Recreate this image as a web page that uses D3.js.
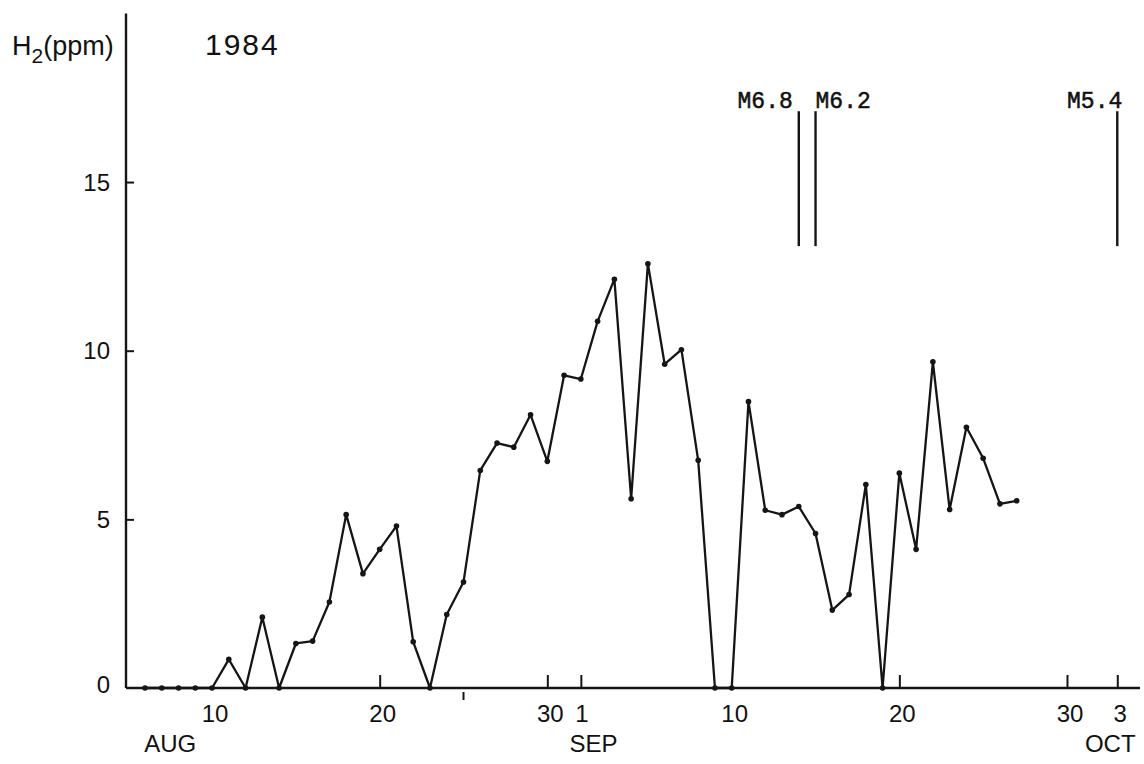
<!DOCTYPE html>
<html>
<head>
<meta charset="utf-8">
<script src="https://cdn.jsdelivr.net/npm/d3@7"></script>
<style>
  html, body { margin: 0; padding: 0; background: #fff; }
  svg { display: block; }
  text { fill: #111; }
</style>
</head>
<body>
<div id="chart"></div>
<script>
// daily H2 readings, 1984
const days = [
    '1984-08-06', '1984-08-07', '1984-08-08', '1984-08-09', '1984-08-10',
    '1984-08-11', '1984-08-12', '1984-08-13', '1984-08-14', '1984-08-15',
    '1984-08-16', '1984-08-17', '1984-08-18', '1984-08-19', '1984-08-20',
    '1984-08-21', '1984-08-22', '1984-08-23', '1984-08-24', '1984-08-25',
    '1984-08-26', '1984-08-27', '1984-08-28', '1984-08-29', '1984-08-30',
    '1984-08-31', '1984-09-01', '1984-09-02', '1984-09-03', '1984-09-04',
    '1984-09-05', '1984-09-06', '1984-09-07', '1984-09-08', '1984-09-09',
    '1984-09-10', '1984-09-11', '1984-09-12', '1984-09-13', '1984-09-14',
    '1984-09-15', '1984-09-16', '1984-09-17', '1984-09-18', '1984-09-19',
    '1984-09-20', '1984-09-21', '1984-09-22', '1984-09-23', '1984-09-24',
    '1984-09-25', '1984-09-26', '1984-09-27'
];
const h2 = [
    0, 0, 0, 0, 0,
    0.85, 0, 2.1, 0, 1.32,
    1.39, 2.55, 5.14, 3.39, 4.11,
    4.8, 1.37, 0, 2.18, 3.14,
    6.45, 7.26, 7.14, 8.1, 6.72,
    9.27, 9.16, 10.87, 12.12, 5.61,
    12.58, 9.6, 10.03, 6.75, 0,
    0, 8.49, 5.27, 5.14, 5.38,
    4.58, 2.31, 2.77, 6.03, 0,
    6.37, 4.11, 9.67, 5.29, 7.73,
    6.81, 5.46, 5.55
];

// axis labels
const yTicks = [5, 10, 15];
const yTickLabels = [0, 5, 10, 15];
const xLabelDays = ['1984-08-10', '1984-08-20', '1984-08-30', '1984-09-01', '1984-09-10', '1984-09-20', '1984-09-30', '1984-10-03'];
const xLabelText = ['10', '20', '30', '1', '10', '20', '30', '3'];
const xTickDays = ['1984-08-20', '1984-08-30', '1984-09-01', '1984-09-20', '1984-09-30', '1984-10-03'];
const monthDays = ['1984-08-07T12:00', '1984-09-01T18:00', '1984-10-02T14:00'];
const monthNames = ['AUG', 'SEP', 'OCT'];

// earthquakes (magnitude) and the H2 range their bars span
const quakeDays = ['1984-09-14', '1984-09-15', '1984-10-03'];
const quakeLabels = ['M6.8', 'M6.2', 'M5.4'];
const quakeSpan = [13.1, 17.1];

const W = 1144, H = 764;
const parse = d3.utcParse('%Y-%m-%d');
const parseT = d3.utcParse('%Y-%m-%dT%H:%M');
const day = s => s.length > 10 ? parseT(s) : parse(s);

const svg = d3.select('#chart').append('svg')
    .attr('width', W)
    .attr('height', H);

// x: fitted on first/last reading, then stretched to the drawn axis
const x0 = d3.scaleUtc()
    .domain([day(days[0]), day(days[days.length - 1])])
    .range([145, 1016.7]);
const x = d3.scaleUtc()
    .domain([x0.invert(126), x0.invert(1140)])
    .range([126, 1140]);

const y = d3.scaleLinear()
    .domain([0, 20])
    .range([688, 13.4]);

const ink = '#151515';

// y axis: ticks point inward
svg.append('g')
    .attr('transform', `translate(${x.range()[0]},0)`)
    .call(d3.axisRight(y).tickValues(yTicks).tickSize(8).tickFormat('').tickSizeOuter(0))
    .call(g => g.select('.domain').remove())
    .call(g => g.selectAll('line').attr('stroke', ink).attr('stroke-width', 2));

svg.append('line')
    .attr('x1', x.range()[0]).attr('x2', x.range()[0])
    .attr('y1', y(0)).attr('y2', y(20))
    .attr('stroke', ink).attr('stroke-width', 2.4);

svg.append('g')
    .selectAll('text')
    .data(yTickLabels)
    .join('text')
        .attr('x', 110)
        .attr('y', d => y(d))
        .attr('dy', d => d === 0 ? '0.22em' : '0.36em')
        .attr('text-anchor', 'end')
        .attr('font-family', 'Liberation Sans, Arial, sans-serif')
        .attr('font-size', 24)
        .text(d => d);

// x axis baseline
svg.append('line')
    .attr('x1', x.range()[0]).attr('x2', x.range()[1])
    .attr('y1', y(0)).attr('y2', y(0))
    .attr('stroke', ink).attr('stroke-width', 2.4);

// x ticks (upward)
svg.append('g')
    .attr('transform', `translate(0,${y(0)})`)
    .call(d3.axisTop(x).tickValues(xTickDays.map(day)).tickSize(13).tickFormat(''))
    .call(g => g.select('.domain').remove())
    .call(g => g.selectAll('line').attr('stroke', ink).attr('stroke-width', 2));

// stray mark under the axis
svg.append('line')
    .attr('x1', x(day('1984-08-25'))).attr('x2', x(day('1984-08-25')))
    .attr('y1', y(0) + 4).attr('y2', y(0) + 12)
    .attr('stroke', ink).attr('stroke-width', 2);

// x tick labels
svg.append('g')
    .selectAll('text')
    .data(xLabelDays)
    .join('text')
        .attr('x', (d, i) => x(day(d)) + (xLabelText[i] === '1' ? 1 : 3))
        .attr('y', 722)
        .attr('text-anchor', 'middle')
        .attr('font-family', 'Liberation Sans, Arial, sans-serif')
        .attr('font-size', 24)
        .text((d, i) => xLabelText[i]);

svg.append('g')
    .selectAll('text')
    .data(monthDays)
    .join('text')
        .attr('x', d => x(day(d)))
        .attr('y', 752)
        .attr('text-anchor', 'middle')
        .attr('font-family', 'Liberation Sans, Arial, sans-serif')
        .attr('font-size', 24)
        .text((d, i) => monthNames[i]);

// titles
const yTitle = svg.append('text')
    .attr('x', 12)
    .attr('y', 55)
    .attr('font-family', 'Liberation Sans, Arial, sans-serif')
    .attr('font-size', 27);
yTitle.append('tspan').text('H');
yTitle.append('tspan').attr('font-size', 21).attr('dy', 8).text('2');
yTitle.append('tspan').attr('dy', -8).text('(ppm)');

svg.append('text')
    .attr('x', 205)
    .attr('y', 55)
    .attr('font-family', 'Liberation Sans, Arial, sans-serif')
    .attr('font-size', 30)
    .attr('letter-spacing', 2)
    .text('1984');

// earthquake bars
const labelPlace = { 'M6.8': ['end', -6], 'M6.2': ['start', 0], 'M5.4': ['end', 5] };
const quakes = svg.append('g')
    .selectAll('g')
    .data(quakeDays)
    .join('g')
        .attr('transform', d => `translate(${x(day(d))},0)`);

quakes.append('line')
    .attr('y1', y(quakeSpan[0]))
    .attr('y2', y(quakeSpan[1]))
    .attr('stroke', ink)
    .attr('stroke-width', 2.4);

quakes.append('text')
    .attr('x', (d, i) => labelPlace[quakeLabels[i]][1])
    .attr('y', 108)
    .attr('text-anchor', (d, i) => labelPlace[quakeLabels[i]][0])
    .attr('font-family', 'Liberation Mono, Courier New, monospace')
    .attr('font-size', 23)
    .attr('stroke', '#111')
    .attr('stroke-width', 0.5)
    .text((d, i) => quakeLabels[i]);

// series line and dots
const pts = days.map((d, i) => ({ date: day(d), value: h2[i] }));

svg.append('path')
    .datum(pts)
    .attr('fill', 'none')
    .attr('stroke', ink)
    .attr('stroke-width', 2.3)
    .attr('stroke-linejoin', 'round')
    .attr('d', d3.line()
        .x(d => x(d.date))
        .y(d => y(d.value)));

svg.append('g')
    .selectAll('circle')
    .data(pts)
    .join('circle')
        .attr('cx', d => x(d.date))
        .attr('cy', d => y(d.value))
        .attr('r', 2.8)
        .attr('fill', ink);
</script>
</body>
</html>
